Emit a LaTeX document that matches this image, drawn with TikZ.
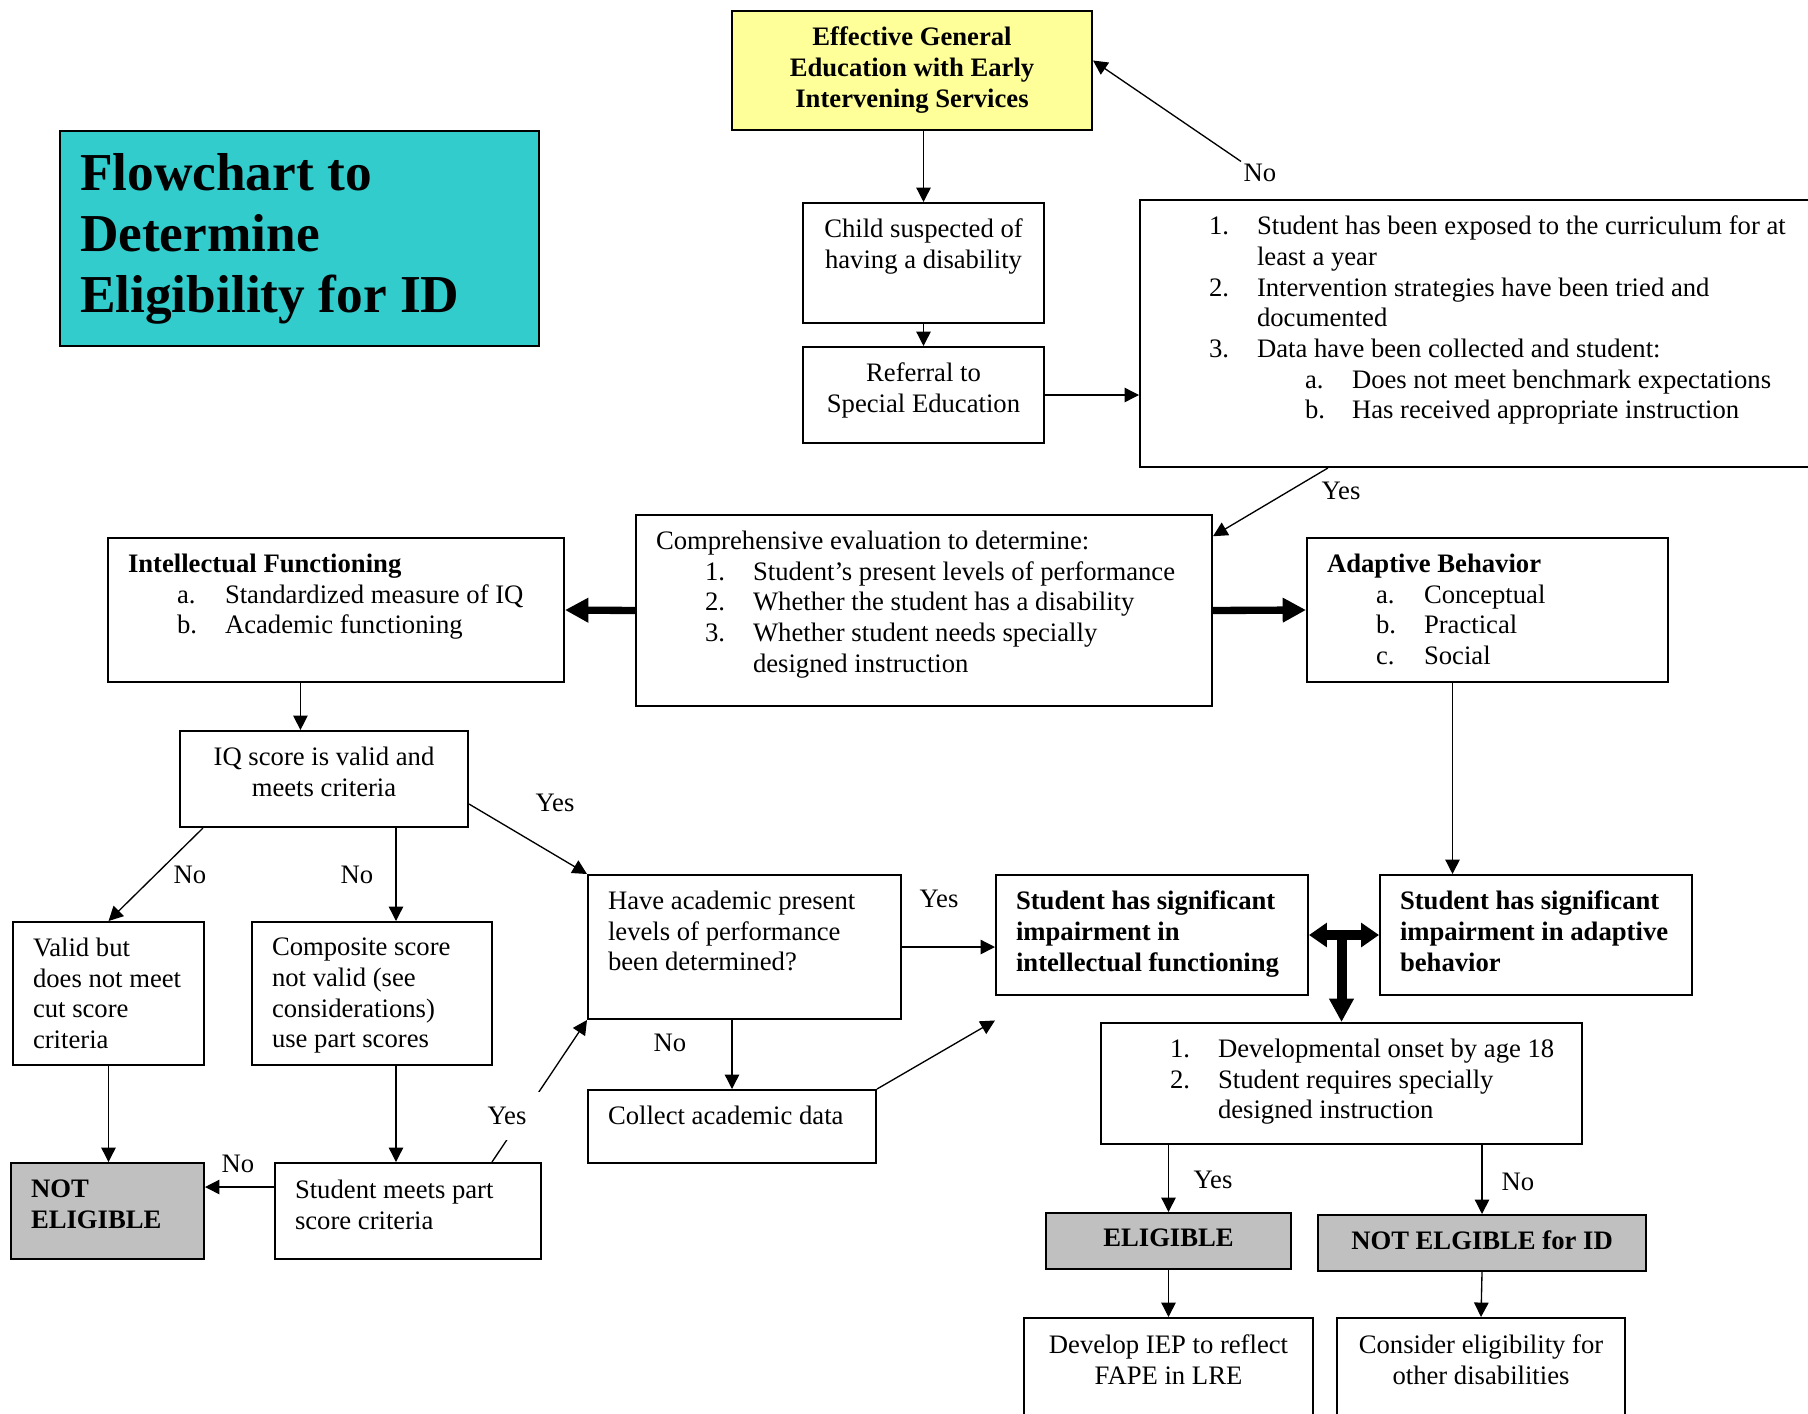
\documentclass[tikz,border=0pt]{standalone}
\usepackage{fontspec}
\setmainfont{Liberation Serif}
\usetikzlibrary{arrows.meta}

\newlength{\unitpx}
\setlength{\unitpx}{0.45pt}
\definecolor{titlecyan}{HTML}{33CCCC}
\definecolor{notepad}{HTML}{FFFF99}
\definecolor{verdictgray}{HTML}{C0C0C0}

% text block of a box: [top gap]{width}{height}{text}, sizes in px
\newcommand{\inbox}[4][16]{\begin{minipage}[c][#3\unitpx][t]{\dimexpr#2\unitpx-40\unitpx\relax}\vspace*{#1\unitpx}\raggedright #4\end{minipage}}
% list line: {number indent}{text indent}{number}
\newcommand{\itm}[3]{\par\noindent\hangindent=#2\unitpx\hangafter=1\hspace*{#1\unitpx}\makebox[\dimexpr#2\unitpx-#1\unitpx\relax][l]{#3}\ignorespaces}

\begin{document}
\fontsize{12pt}{13.8pt}\selectfont
\begin{tikzpicture}[x=0.45pt, y=-0.45pt, font=\fontsize{12pt}{13.8pt}\selectfont,
    >={Triangle[length=6.5pt, width=6.5pt]}]
    \tikzstyle{stage} = [draw, line width=0.9pt, anchor=north west, inner xsep=9pt, inner ysep=0pt]
    \tikzstyle{verdict} = [stage, fill=verdictgray]
    \tikzstyle{flow} = [line width=0.6pt, ->]
    \tikzstyle{bigflow} = [line width=3.3pt, -{Triangle[length=10.5pt, width=10.5pt]}]
    \tikzstyle{bigboth} = [line width=4.5pt, {Triangle[length=8pt, width=10.5pt]}-{Triangle[length=8pt, width=10.5pt]}]
    \tikzstyle{tag} = [inner sep=1pt]

    \useasboundingbox (0,0) rectangle (1808,1413);

    \node (title) [stage, fill=titlecyan] at (59,130) {\inbox[22]{479}{215}{\fontsize{24pt}{27.6pt}\selectfont\bfseries Flowchart to\\Determine\\Eligibility for ID}};

    \node (general) [stage, fill=notepad] at (731,10) {\inbox{360}{119}{\centering\bfseries Effective General\\Education with Early\\Intervening Services}};
    \node (child) [stage] at (802,202) {\inbox{241}{120}{\centering Child suspected of\\having a disability}};
    \node (referral) [stage] at (802,346) {\inbox{241}{96}{\centering Referral to\\Special Education}};
    \node (criteria) [stage] at (1139,199) {\inbox{691}{267}{%
        \itm{49}{97}{1.}Student has been exposed to the curriculum for at\newline least a year
        \itm{49}{97}{2.}Intervention strategies have been tried and\newline documented
        \itm{49}{97}{3.}Data have been collected and student:
        \itm{145}{192}{a.}Does not meet benchmark expectations
        \itm{145}{192}{b.}Has received appropriate instruction}};

    \node (comp) [stage] at (635,514) {\inbox{576}{191}{Comprehensive evaluation to determine:
        \itm{49}{97}{1.}Student’s present levels of performance
        \itm{49}{97}{2.}Whether the student has a disability
        \itm{49}{97}{3.}Whether student needs specially\newline designed instruction}};
    \node (intel) [stage] at (107,537) {\inbox{456}{144}{\textbf{Intellectual Functioning}
        \itm{49}{97}{a.}Standardized measure of IQ
        \itm{49}{97}{b.}Academic functioning}};
    \node (adapt) [stage] at (1306,537) {\inbox{361}{144}{\textbf{Adaptive Behavior}
        \itm{49}{97}{a.}Conceptual
        \itm{49}{97}{b.}Practical
        \itm{49}{97}{c.}Social}};

    \node (iq) [stage] at (179,730) {\inbox{288}{96}{\centering IQ score is valid and\\meets criteria}};
    \node (valid) [stage] at (12,921) {\inbox{191}{143}{Valid but\\does not meet\\cut score\\criteria}};
    \node (composite) [stage] at (251,921) {\inbox{240}{143}{Composite score\\not valid (see\\considerations)\\use part scores}};
    \node (have) [stage] at (587,874) {\inbox{313}{144}{Have academic present\\levels of performance\\been determined?}};
    \node (impI) [stage] at (995,874) {\inbox{312}{120}{\bfseries Student has significant\\impairment in\\intellectual functioning}};
    \node (impA) [stage] at (1379,874) {\inbox{312}{120}{\bfseries Student has significant\\impairment in adaptive\\behavior}};
    \node (dev) [stage] at (1100,1022) {\inbox{481}{121}{%
        \itm{49}{97}{1.}Developmental onset by age 18
        \itm{49}{97}{2.}Student requires specially\newline designed instruction}};

    \node (noteli) [verdict] at (10,1162) {\inbox[17]{193}{96}{\bfseries NOT\\ELIGIBLE}};
    \node (part) [stage] at (274,1162) {\inbox[17]{266}{96}{Student meets part\\score criteria}};
    \node (collect) [stage] at (587,1089) {\inbox{288}{73}{Collect academic data}};
    \node (eligible) [verdict] at (1045,1212) {\inbox{245}{56}{\centering\bfseries ELIGIBLE}};
    \node (notelg) [verdict] at (1317,1214) {\inbox{328}{56}{\centering\bfseries NOT ELGIBLE for ID}};
    \node (develop) [stage] at (1023,1317) {\inbox[17]{289}{120}{\centering Develop IEP to reflect\\FAPE in LRE}};
    \node (consider) [stage] at (1336,1317) {\inbox[17]{288}{120}{\centering Consider eligibility for\\other disabilities}};

    % answer labels
    \node (no1) [tag] at (1260,173) {No};
    \node (yes1) [tag] at (1341,491) {Yes};
    \node (yes2) [tag] at (555,803) {Yes};
    \node (no2) [tag] at (190,875) {No};
    \node (no3) [tag] at (357,875) {No};
    \node (yes3) [tag] at (939,899) {Yes};
    \node (no4) [tag] at (670,1043) {No};
    \node (no5) [tag] at (238,1164) {No};
    \node (yes5) [tag] at (1213,1180) {Yes};
    \node (no6) [tag] at (1518,1182) {No};

    \draw [flow] (child.north |- general.south) -- (child.north);
    \draw [flow] (child.south) -- (referral.north);
    \draw [flow] (referral.east) -- (referral.east -| criteria.west);
    \draw [flow] (no1.north west) -- ([yshift=4.5pt]general.east);
    \draw [flow] ([xshift=85pt]criteria.south west) -- ([yshift=-10pt]comp.north east);
    \draw [bigflow] (comp.west) -- (intel.east);
    \draw [bigflow] (comp.east) -- (adapt.west);

    \draw [flow] ([xshift=-16pt]intel.south) -- ([xshift=-16pt]intel.south |- iq.north);
    \draw [flow] ([xshift=10.8pt]iq.south west) -- (valid.north);
    \draw [flow] ([xshift=32.4pt]iq.south) -- ([xshift=32.4pt]iq.south |- composite.north);
    \draw [flow] ([yshift=10.8pt]iq.south east) -- (have.north west);
    \draw [flow] (valid.south) -- (valid.south |- noteli.north);
    \draw [flow] ([xshift=10.8pt]composite.south) -- ([xshift=10.8pt]composite.south |- part.north);
    \draw [flow] ([yshift=10.8pt]part.west) -- ([yshift=10.8pt]part.west -| noteli.east);
    \draw [flow] ([xshift=37.8pt]part.north) -- (have.south west);
    \node (yes4) [tag, fill=white, inner sep=7pt] at (507,1116) {Yes};
    \draw [flow] (collect.north |- have.south) -- (collect.north);
    \draw [flow] (collect.north east) -- ([yshift=-11pt]impI.south west);
    \draw [flow] (have.east) -- (have.east -| impI.west);

    \draw [flow] ([xshift=-15.75pt]adapt.south) -- ([xshift=-15.75pt]adapt.south |- impA.north);
    \draw [bigboth] (impI.east) -- (impA.west);
    \draw [bigflow, line width=4.5pt] (dev.north |- impI.east) -- (dev.north);
    \draw [flow] (eligible.north |- dev.south) -- (eligible.north);
    \draw [flow] (notelg.north |- dev.south) -- (notelg.north);
    \draw [flow] (eligible.south) -- (develop.north);
    \draw [flow] (notelg.south) -- (consider.north);
\end{tikzpicture}
\end{document}
